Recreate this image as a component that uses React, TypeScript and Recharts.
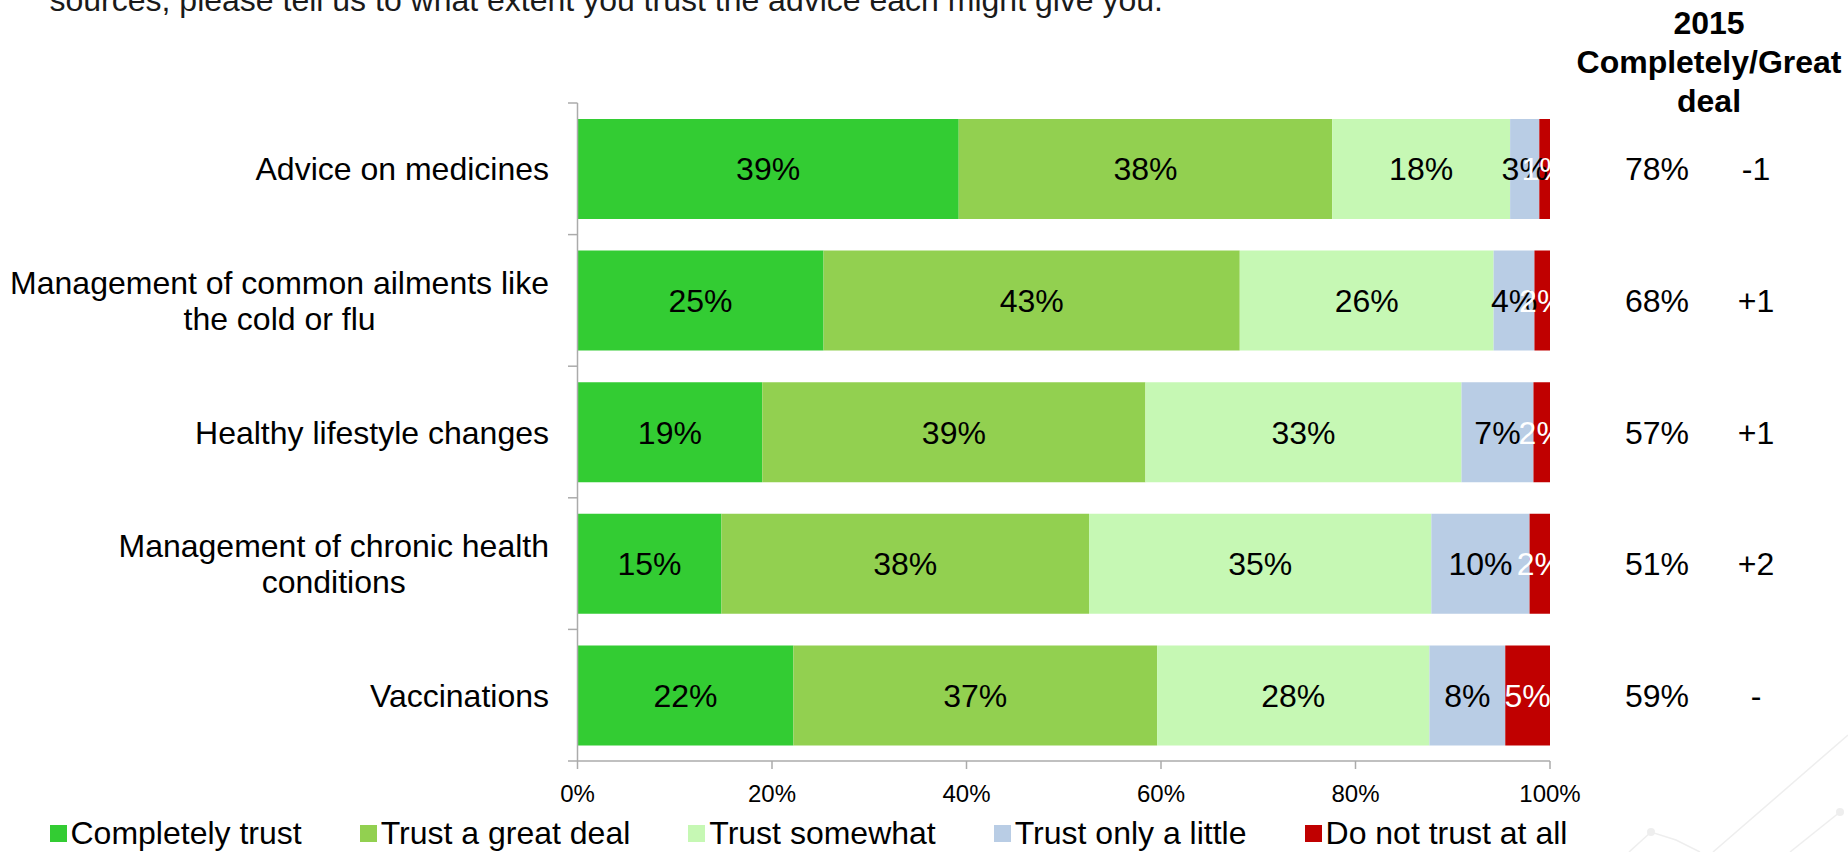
import React from 'react';
import { BarChart, Bar, XAxis, YAxis, LabelList, Legend } from 'recharts';

// ---------- data ----------
const categories = [
  'Advice on medicines',
  'Management of common ailments like the cold or flu',
  'Healthy lifestyle changes',
  'Management of chronic health conditions',
  'Vaccinations',
];
const completelyTrust = [39.2, 25.3, 19.0, 14.8, 22.2];
const trustGreatDeal = [38.4, 42.8, 39.4, 37.8, 37.4];
const trustSomewhat = [18.3, 26.1, 32.5, 35.2, 28.0];
const trustOnlyLittle = [3.0, 4.2, 7.4, 10.1, 7.8];
const doNotTrust = [1.1, 1.6, 1.7, 2.1, 4.6];
const total2015 = ['78%', '68%', '57%', '51%', '59%'];
const change2015 = ['-1', '+1', '+1', '+2', '-'];
const xTicks = [0, 20, 40, 60, 80, 100];
const questionText = 'sources, please tell us to what extent you trust the advice each might give you.';
const headerLines = ['2015', 'Completely/Great', 'deal'];

const series = [
  { key: 'completely', name: 'Completely trust', color: '#33CC33', labelColor: '#000000', values: completelyTrust },
  { key: 'greatDeal', name: 'Trust a great deal', color: '#92D050', labelColor: '#000000', values: trustGreatDeal },
  { key: 'somewhat', name: 'Trust somewhat', color: '#C6F8B4', labelColor: '#000000', values: trustSomewhat },
  { key: 'little', name: 'Trust only a little', color: '#B9CDE5', labelColor: '#000000', values: trustOnlyLittle },
  { key: 'notAtAll', name: 'Do not trust at all', color: '#C00000', labelColor: '#FFFFFF', values: doNotTrust },
];
const seriesOrder = series.map((s) => s.name);

const data = categories.map((name, i) => {
  const row: Record<string, any> = { name };
  series.forEach((s) => {
    row[s.key] = s.values[i];
  });
  return row;
});

// ---------- layout / style ----------
const W = 1848;
const H = 852;
const FONT = '"Liberation Sans", Arial, Helvetica, sans-serif';
const AXIS_COLOR = '#ABABAB';
const MARGIN = { top: 103, right: 298, left: 0, bottom: 61 };
const YAXIS_WIDTH = 577.5;
const PLOT_LEFT = MARGIN.left + YAXIS_WIDTH;
const LABEL_RIGHT = PLOT_LEFT - 28.5;
const TOTAL_X = 1657;
const CHANGE_X = 1756;

let measureCtx: CanvasRenderingContext2D | null = null;
function measure(text: string, font: string): number {
  if (!measureCtx) measureCtx = document.createElement('canvas').getContext('2d');
  if (!measureCtx) return text.length * 16;
  measureCtx.font = font;
  return measureCtx.measureText(text).width;
}

function wrap(text: string, maxW: number, font: string): string[] {
  const words = text.split(' ');
  const lines: string[] = [];
  let cur = '';
  words.forEach((w) => {
    const test = cur ? cur + ' ' + w : w;
    if (cur && measure(test, font) > maxW) {
      lines.push(cur);
      cur = w;
    } else {
      cur = test;
    }
  });
  if (cur) lines.push(cur);
  return lines;
}

const CAT_FONT = `32px ${FONT}`;

const CategoryTick = (props: any) => {
  const { y, payload, index } = props;
  const half = typeof payload?.offset === 'number' && payload.offset > 0 ? payload.offset : 65.8;
  const lines = wrap(String(payload.value), 560, CAT_FONT);
  const widths = lines.map((l) => measure(l, CAT_FONT));
  const maxW = Math.max(...widths);
  const cx = LABEL_RIGHT - maxW / 2;
  const lh = 36;
  const firstBaseline = y - ((lines.length - 1) * lh) / 2 + 11.5;
  const isLast = index === categories.length - 1;
  return (
    <g>
      <line x1={PLOT_LEFT - 9.5} x2={PLOT_LEFT} y1={y - half} y2={y - half} stroke={AXIS_COLOR} strokeWidth={1.5} />
      {isLast && (
        <line x1={PLOT_LEFT - 9.5} x2={PLOT_LEFT} y1={y + half} y2={y + half} stroke={AXIS_COLOR} strokeWidth={1.5} />
      )}
      <text textAnchor="middle" fontSize={32} fill="#000" fontFamily={FONT}>
        {lines.map((l, i) => (
          <tspan key={i} x={cx} y={firstBaseline + i * lh}>
            {l}
          </tspan>
        ))}
      </text>
      <text x={TOTAL_X} y={y + 11.5} textAnchor="middle" fontSize={32} fill="#000" fontFamily={FONT}>
        {total2015[index]}
      </text>
      <text x={CHANGE_X} y={y + 11.5} textAnchor="middle" fontSize={32} fill="#000" fontFamily={FONT}>
        {change2015[index]}
      </text>
    </g>
  );
};

const LegendContent = (props: any) => {
  const payload = [...(props.payload || [])].sort(
    (a: any, b: any) => seriesOrder.indexOf(a.value) - seriesOrder.indexOf(b.value)
  );
  return (
    <div style={{ display: 'flex', flexWrap: 'nowrap', alignItems: 'center', fontFamily: FONT, fontSize: 32, lineHeight: '36px', color: '#000' }}>
      {payload.map((p: any, i: number) => (
        <div key={i} style={{ display: 'flex', alignItems: 'center', marginRight: 58, whiteSpace: 'nowrap' }}>
          <span style={{ display: 'inline-block', width: 17, height: 17, background: p.color, marginRight: 4 }} />
          <span>{p.value}</span>
        </div>
      ))}
    </div>
  );
};

export default function App() {
  return (
    <div style={{ position: 'absolute', left: 0, top: 0, width: W, height: H, background: '#fff', fontFamily: FONT, overflow: 'hidden' }}>
      <svg width={W} height={H} style={{ position: 'absolute', left: 0, top: 0, pointerEvents: 'none' }}>
        <polyline points="1629,852 1651,832 1676,840 1700,852" fill="none" stroke="#EEEEEE" strokeWidth={1.5} />
        <circle cx={1651} cy={832} r={4} fill="#EEEEEE" />
        <line x1={1713} y1={852} x2={1848} y2={735} stroke="#EEEEEE" strokeWidth={1.5} />
        <line x1={1790} y1={852} x2={1840} y2={812} stroke="#EEEEEE" strokeWidth={1.5} />
        <circle cx={1840} cy={812} r={4} fill="#EEEEEE" />
      </svg>
      <div style={{ position: 'absolute', left: 0, top: 0 }}>
        <BarChart
          width={W}
          height={H}
          data={data}
          layout="vertical"
          margin={MARGIN}
          barSize={100}
        >
          <XAxis
            type="number"
            domain={[0, 100]}
            ticks={xTicks}
            tickFormatter={(v: number) => `${v}%`}
            height={30}
            tickSize={8}
            tickMargin={16}
            axisLine={{ stroke: AXIS_COLOR, strokeWidth: 1.5 }}
            tickLine={{ stroke: AXIS_COLOR, strokeWidth: 1.5 }}
            tick={{ fill: '#000', fontSize: 24, fontFamily: FONT }}
            interval={0}
            allowDataOverflow
          />
          <YAxis
            type="category"
            dataKey="name"
            width={YAXIS_WIDTH}
            axisLine={{ stroke: AXIS_COLOR, strokeWidth: 1.5 }}
            tickLine={false}
            tick={<CategoryTick />}
            interval={0}
          />
          <Legend
            layout="horizontal"
            verticalAlign="middle"
            align="center"
            content={<LegendContent />}
            wrapperStyle={{ left: 49.5, top: 815, width: 1790, height: 40, right: 'auto', bottom: 'auto' }}
          />
          {series.map((s) => (
            <Bar key={s.key} dataKey={s.key} name={s.name} stackId="a" fill={s.color} isAnimationActive={false}>
              <LabelList
                dataKey={s.key}
                position="center"
                formatter={(v: any) => `${Math.round(Number(v))}%`}
                fill={s.labelColor}
                fontSize={32}
                fontFamily={FONT}
              />
            </Bar>
          ))}
        </BarChart>
      </div>
      <svg width={W} height={H} style={{ position: 'absolute', left: 0, top: 0, pointerEvents: 'none' }}>
        <text x={49.5} y={11} fontSize={32} fill="#1a1a1a" fontFamily={FONT}>
          {questionText}
        </text>
        {headerLines.map((l, i) => (
          <text key={i} x={1709} y={34 + i * 39} textAnchor="middle" fontSize={32} fontWeight="bold" fill="#000" fontFamily={FONT}>
            {l}
          </text>
        ))}
      </svg>
    </div>
  );
}
